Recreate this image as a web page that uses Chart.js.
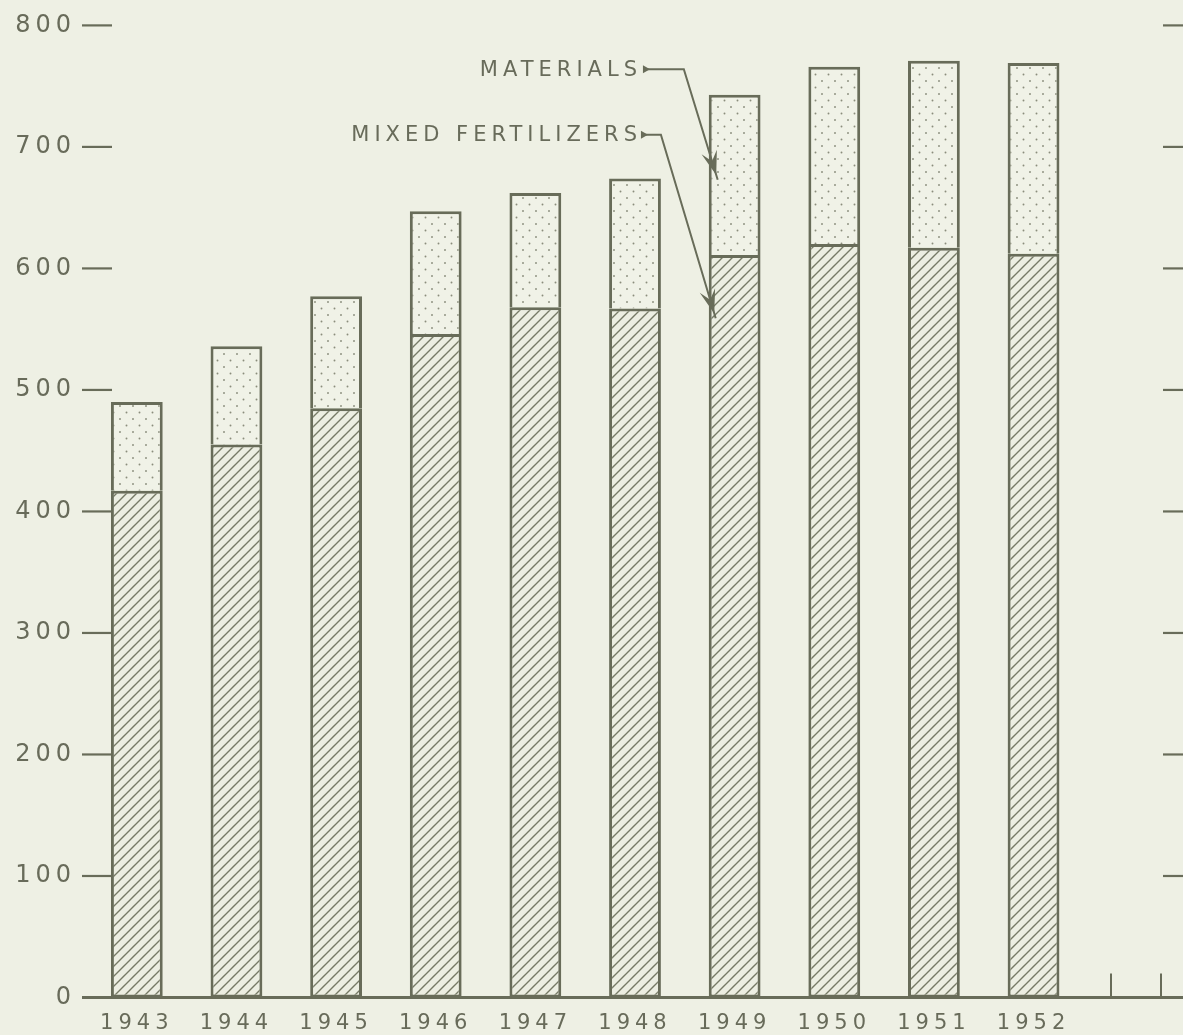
<!DOCTYPE html>
<html>
<head>
<meta charset="utf-8">
<script src="https://cdn.jsdelivr.net/npm/chart.js@4"></script>
<style>
  html, body { margin: 0; padding: 0; background: #eef0e4; }
  #wrap { width: 1183px; height: 1035px; position: relative; }
</style>
</head>
<body>
<div id="wrap"><canvas id="c"></canvas></div>
<script>
// ---- data ----
const years = ['1943', '1944', '1945', '1946', '1947', '1948', '1949', '1950', '1951', '1952'];
const mixedFertilizers = [417, 455, 485, 546, 568, 567, 611, 620, 617, 612];
const materials = [73, 81, 92, 101, 94, 107, 132, 146, 154, 157];
const yTickValues = [0, 100, 200, 300, 400, 500, 600, 700, 800];
const seriesNames = ['MIXED FERTILIZERS', 'MATERIALS'];

// ---- styles ----
const BG = '#eef0e4';
const INK = '#686c59';
const TEXT = '#686b5a';

function makeHatch(ctx) {
  const c = document.createElement('canvas');
  c.width = 10; c.height = 10;
  const g = c.getContext('2d');
  g.fillStyle = '#eceee2';
  g.fillRect(0, 0, 10, 10);
  g.strokeStyle = '#767a66';
  g.lineWidth = 1.4;
  g.beginPath();
  g.moveTo(-2, 12); g.lineTo(12, -2);
  g.moveTo(-2, 2); g.lineTo(2, -2);
  g.moveTo(8, 12); g.lineTo(12, 8);
  g.stroke();
  return ctx.createPattern(c, 'repeat');
}
function makeDots(ctx) {
  const c = document.createElement('canvas');
  c.width = 13; c.height = 13;
  const g = c.getContext('2d');
  g.fillStyle = '#f0f2e7';
  g.fillRect(0, 0, 13, 13);
  g.fillStyle = '#8a8d7c';
  [[3, 3], [9.5, 9.5]].forEach(([x, y]) => {
    g.beginPath(); g.arc(x, y, 0.95, 0, Math.PI * 2); g.fill();
  });
  return ctx.createPattern(c, 'repeat');
}

const canvas = document.getElementById('c');
const ctx0 = canvas.getContext('2d');
const hatch = makeHatch(ctx0);
const dots = makeDots(ctx0);

// annotation anchors (x in category index units, y in data units)
const notes = [
  { text: seriesNames[1], textX: 5, textY: 764, tailX: 5.11, elbowX: 5.49, tipX: 5.83, tipY: 673 },
  { text: seriesNames[0], textX: 5, textY: 710, tailX: 5.09, elbowX: 5.26, tipX: 5.81, tipY: 559 }
];

const decor = {
  id: 'decor',
  beforeDraw(chart) {
    chart.ctx.letterSpacing = '5px';
  },
  afterDatasetsDraw(chart) {
    const { ctx, chartArea: a, scales: { x, y } } = chart;
    ctx.save();
    ctx.letterSpacing = '0px';
    ctx.strokeStyle = INK;
    ctx.lineCap = 'butt';
    // tick marks
    ctx.lineWidth = 2.2;
    yTickValues.forEach(v => {
      if (v === 0) return;
      const py = y.getPixelForValue(v);
      ctx.beginPath(); ctx.moveTo(a.left - 5, py); ctx.lineTo(a.left + 25, py); ctx.stroke();
      ctx.beginPath(); ctx.moveTo(a.right - 20, py); ctx.lineTo(a.right, py); ctx.stroke();
    });
    // x axis line
    const by = y.getPixelForValue(0);
    ctx.lineWidth = 2.8;
    ctx.beginPath(); ctx.moveTo(a.left - 5, by); ctx.lineTo(a.right, by); ctx.stroke();
    // small vertical marks at right end of base line
    ctx.lineWidth = 2;
    [a.right - 72, a.right - 22].forEach(px => {
      ctx.beginPath(); ctx.moveTo(px, by); ctx.lineTo(px, by - 24); ctx.stroke();
    });

    // annotations
    ctx.font = '21px "DejaVu Sans", sans-serif';
    ctx.letterSpacing = '5px';
    ctx.textAlign = 'right';
    ctx.textBaseline = 'middle';
    notes.forEach(n => {
      const tx = x.getPixelForValue(n.textX);
      const ty = y.getPixelForValue(n.textY);
      ctx.fillStyle = TEXT;
      ctx.fillText(n.text, tx + 7, ty + 1);
      const sx = x.getPixelForValue(n.tailX);
      const ex = x.getPixelForValue(n.elbowX);
      const px = x.getPixelForValue(n.tipX);
      const py = y.getPixelForValue(n.tipY);
      ctx.fillStyle = INK;
      // tail pointer
      ctx.beginPath();
      ctx.moveTo(sx - 3, ty - 4); ctx.lineTo(sx + 4, ty); ctx.lineTo(sx - 3, ty + 4); ctx.closePath(); ctx.fill();
      // leader line
      ctx.lineWidth = 2;
      ctx.beginPath(); ctx.moveTo(sx, ty); ctx.lineTo(ex, ty); ctx.lineTo(px, py); ctx.stroke();
      // arrow head
      const ang = Math.atan2(py - ty, px - ex);
      const L = 24, W = 8;
      const hx = px - Math.cos(ang) * 5, hy = py - Math.sin(ang) * 5;
      const c = Math.cos(ang), s = Math.sin(ang);
      ctx.beginPath();
      ctx.moveTo(hx, hy);
      ctx.lineTo(hx - c * L - s * W, hy - s * L + c * W);
      ctx.lineTo(hx - c * L * 0.6, hy - s * L * 0.6);
      ctx.lineTo(hx - c * L + s * W, hy - s * L - c * W);
      ctx.closePath(); ctx.fill();
    });
    ctx.restore();
  }
};

new Chart(canvas, {
  type: 'bar',
  data: {
    labels: [...years, ''],
    datasets: [
      {
        label: seriesNames[0],
        data: mixedFertilizers,
        backgroundColor: hatch,
        borderColor: INK,
        borderWidth: 3,
        borderSkipped: false,
        barPercentage: 0.52,
        categoryPercentage: 1
      },
      {
        label: seriesNames[1],
        data: materials,
        backgroundColor: dots,
        borderColor: INK,
        borderWidth: 3,
        borderSkipped: 'bottom',
        barPercentage: 0.52,
        categoryPercentage: 1
      }
    ]
  },
  options: {
    responsive: true,
    maintainAspectRatio: false,
    animation: false,
    layout: { padding: { top: 23, right: 0, bottom: 0, left: 0 } },
    plugins: { legend: { display: false }, tooltip: { enabled: false } },
    scales: {
      x: {
        stacked: true,
        grid: { display: false, drawTicks: false },
        border: { display: false },
        ticks: {
          color: TEXT,
          font: { family: '"DejaVu Sans", sans-serif', size: 21 },
          padding: 13,
          autoSkip: false,
          maxRotation: 0
        },
        afterFit(s) { s.height = 37.5; }
      },
      y: {
        stacked: true,
        min: 0,
        max: 800,
        grid: { display: false, drawTicks: false },
        border: { display: false },
        ticks: {
          stepSize: 100,
          color: TEXT,
          font: { family: '"DejaVu Sans", sans-serif', size: 24 },
          padding: 11
        },
        afterFit(s) { s.width = 87; }
      }
    }
  },
  plugins: [decor]
});
</script>
</body>
</html>
